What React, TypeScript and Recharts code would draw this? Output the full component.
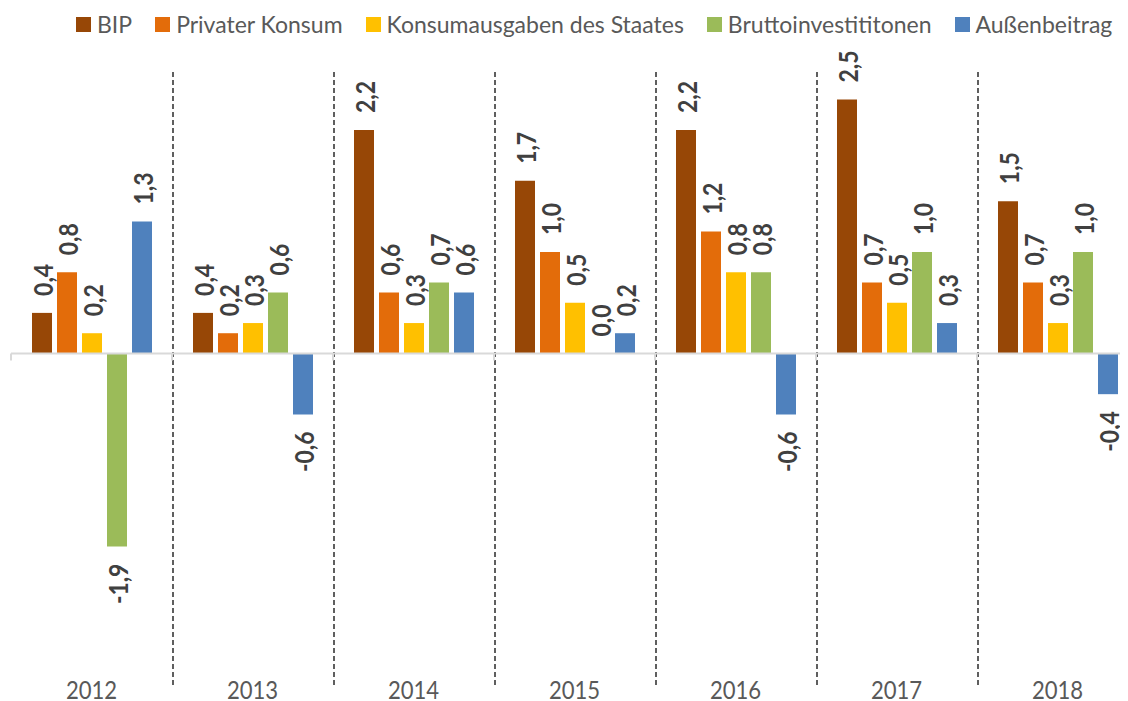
import React from 'react';
import { BarChart, Bar, XAxis, YAxis, CartesianGrid, ReferenceLine, Legend, LabelList } from 'recharts';

const years = ['2012', '2013', '2014', '2015', '2016', '2017', '2018'];
const bip = [0.4, 0.4, 2.2, 1.7, 2.2, 2.5, 1.5];
const privaterKonsum = [0.8, 0.2, 0.6, 1.0, 1.2, 0.7, 0.7];
const staatKonsum = [0.2, 0.3, 0.3, 0.5, 0.8, 0.5, 0.3];
const brutto = [-1.9, 0.6, 0.7, 0.0, 0.8, 1.0, 1.0];
const aussen = [1.3, -0.6, 0.6, 0.2, -0.6, 0.3, -0.4];

const seriesKeys = ['bip', 'pk', 'ks', 'bi', 'ab'];
const seriesNames = ['BIP', 'Privater Konsum', 'Konsumausgaben des Staates', 'Bruttoinvestititonen', 'Außenbeitrag'];
const seriesColors = ['#974706', '#E36C0A', '#FFC000', '#9BBB59', '#4F81BD'];
const seriesValues = [bip, privaterKonsum, staatKonsum, brutto, aussen];

const data = years.map((year, i) => {
  const row: any = { year };
  seriesKeys.forEach((k, s) => {
    row[k] = seriesValues[s][i];
  });
  return row;
});

const TEXT_FONT = "Lato, 'Open Sans', sans-serif";

const ValueLabel = (props: any) => {
  const { x, y, width, height, value } = props;
  if (value === undefined || value === null) return null;
  const cx = x + width / 2;
  const top = Math.min(y, y + height);
  const bottom = Math.max(y, y + height);
  const neg = value < 0;
  const ay = neg ? bottom + 17 : top - 17;
  const text = Number(value).toFixed(1).replace('.', ',');
  return (
    <text
      x={0}
      y={0}
      transform={`translate(${cx} ${ay}) rotate(-90) scale(0.85 1)`}
      textAnchor={neg ? 'end' : 'start'}
      dominantBaseline="central"
      fill="#404040"
      fontFamily={TEXT_FONT}
      fontWeight="bold"
      fontSize={27}
    >
      {text}
    </text>
  );
};

const YearTick = (props: any) => {
  const { x, y, payload } = props;
  return (
    <text
      x={0}
      y={0}
      transform={`translate(${x} ${y + 11}) scale(0.85 1)`}
      textAnchor="middle"
      fill="#595959"
      fontFamily={TEXT_FONT}
      fontSize={26}
    >
      {payload.value}
    </text>
  );
};

const ZeroLine = (p: any) => {
  const { x1, y1, x2, y2 } = p;
  const n = years.length;
  const step = (x2 - x1) / n;
  return (
    <g>
      <line x1={x1} y1={y1} x2={x2} y2={y2} stroke="#d9d9d9" strokeWidth={2} />
      {years.concat(['end']).map((_, i) => (
        <line key={i} x1={x1 + i * step} x2={x1 + i * step} y1={y1} y2={y1 + 7} stroke="#d9d9d9" strokeWidth={2} />
      ))}
    </g>
  );
};

const LegendContent = () => (
  <div
    style={{
      display: 'flex',
      alignItems: 'center',
      fontFamily: TEXT_FONT,
      fontSize: 23,
      color: '#595959',
      whiteSpace: 'nowrap',
      height: 32,
      lineHeight: '32px',
    }}
  >
    {seriesNames.map((n, i) => (
      <div key={n} style={{ display: 'flex', alignItems: 'center', marginRight: 23 }}>
        <span
          style={{ width: 15, height: 15, background: seriesColors[i], marginRight: 6, display: 'inline-block' }}
        />
        <span>{n}</span>
      </div>
    ))}
  </div>
);

const gridGen = (args: any) => {
  const off = args && args.offset ? args.offset : { left: 3, width: 1127 };
  const n = years.length;
  return years.slice(1).map((_, i) => Math.round(off.left + ((i + 1) * off.width) / n) + 1);
};

const zeroMin = (value: any) => (value === 0 ? 0.01 : 0);

export default function App() {
  return (
    <div style={{ width: 1120, height: 693, overflow: 'hidden', position: 'relative' }}>
      <BarChart
        width={1130}
        height={693}
        data={data}
        margin={{ top: 64, right: 0, bottom: 0, left: 3 }}
        barCategoryGap={21}
        barGap={5}
      >
        <CartesianGrid
          horizontal={false}
          vertical
          stroke="#5f5f5f"
          strokeDasharray="5 3"
          strokeWidth={2}
          verticalCoordinatesGenerator={gridGen}
        />
        <XAxis
          dataKey="year"
          axisLine={false}
          tickLine={false}
          tickSize={0}
          tickMargin={0}
          height={13}
          interval={0}
          tick={<YearTick />}
        />
        <YAxis hide domain={[-3.292, 2.771]} allowDataOverflow type="number" />
        <Legend
          verticalAlign="middle"
          align="center"
          layout="horizontal"
          wrapperStyle={{ top: 0, left: 68, width: 1100, height: 32 }}
          content={<LegendContent />}
        />
        {seriesKeys.map((k, i) => (
          <Bar
            key={k}
            dataKey={k}
            name={seriesNames[i]}
            fill={seriesColors[i]}
            minPointSize={zeroMin}
            isAnimationActive={false}
          >
            <LabelList dataKey={k} content={<ValueLabel />} />
          </Bar>
        ))}
        <ReferenceLine y={0} shape={<ZeroLine />} />
      </BarChart>
    </div>
  );
}
